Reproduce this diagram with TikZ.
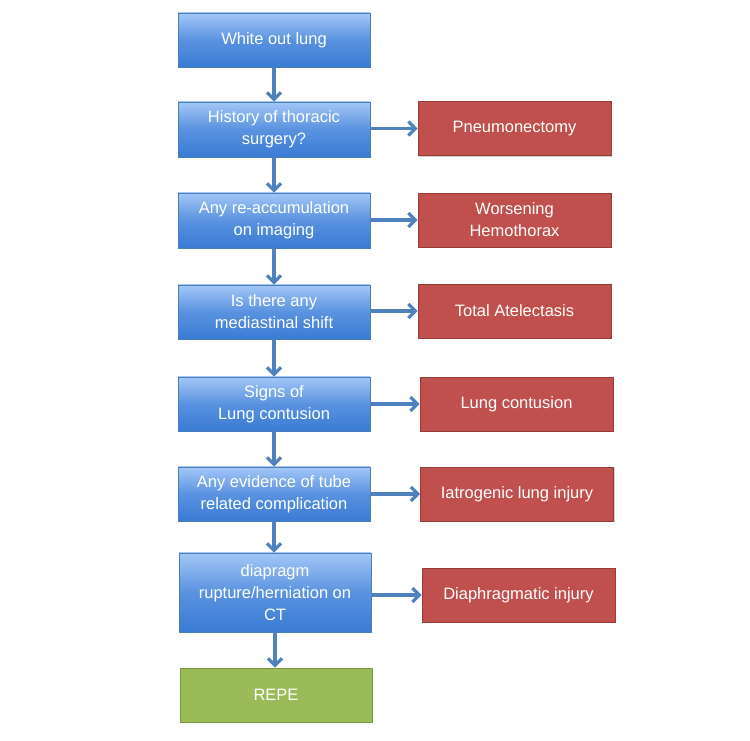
\documentclass[tikz,border=0pt]{standalone}
\usepackage{fontspec}
\setmainfont{Liberation Sans}
\usetikzlibrary{arrows.meta,shadows}
\definecolor{bluetop}{HTML}{A3C7F7}
\definecolor{bluebot}{HTML}{3A7BD5}
\definecolor{blueline}{HTML}{4A7EBB}
\definecolor{arrowc}{HTML}{4F81BD}
\definecolor{redfill}{HTML}{C0504D}
\definecolor{redline}{HTML}{9A3B38}
\definecolor{greenfill}{HTML}{9BBB59}
\definecolor{greenline}{HTML}{7A9A3E}
\begin{document}
\begin{tikzpicture}[x=1pt,y=1pt,
  box/.style={rectangle, minimum width=192pt, minimum height=54pt, inner sep=2pt,
    align=center, text=white, font=\fontsize{16.5}{22}\selectfont, line width=0.8pt,
    drop shadow={shadow xshift=1pt, shadow yshift=-1.5pt, opacity=0.35}},
  qbox/.style={box, draw=blueline, top color=bluetop, bottom color=bluebot, middle color=bluebot!70!bluetop},
  rbox/.style={box, draw=redline, fill=redfill, minimum width=193pt},
  gbox/.style={box, draw=greenline, fill=greenfill},
  conn/.style={draw=arrowc, line width=3.6pt, -{Straight Barb[length=7pt,width=14pt,line width=3.2pt]}}
]
\useasboundingbox (0,0) rectangle (750,741);
\fill[white] (0,0) rectangle (750,741);
% blue question boxes
\node[qbox] (b1) at (274,701) {White out lung};
\node[qbox, minimum height=55pt] (b2) at (274,611.5) {History of thoracic\\surgery?};
\node[qbox, minimum height=55pt] (b3) at (274,520.5) {Any re-accumulation\\on imaging};
\node[qbox] (b4) at (274,429) {Is there any\\mediastinal shift};
\node[qbox] (b5) at (274,337) {Signs of\\Lung contusion};
\node[qbox] (b6) at (274,247) {Any evidence of tube\\related complication};
\node[qbox, minimum height=79pt] (b7) at (275,148.5) {diapragm\\rupture/herniation on\\CT};
\node[gbox] (g) at (276,46) {REPE};
% red outcome boxes
\node[rbox] (r1) at (514.5,612.5) {Pneumonectomy};
\node[rbox] (r2) at (514.5,521) {Worsening\\Hemothorax};
\node[rbox] (r3) at (514.5,430) {Total Atelectasis};
\node[rbox] (r4) at (516.5,337) {Lung contusion};
\node[rbox] (r5) at (517,247) {Iatrogenic lung injury};
\node[rbox] (r6) at (518.5,146) {Diaphragmatic injury};
% vertical connectors
\draw[conn] (b1.south) -- (b2.north);
\draw[conn] (b2.south) -- (b3.north);
\draw[conn] (b3.south) -- (b4.north);
\draw[conn] (b4.south) -- (b5.north);
\draw[conn] (b5.south) -- (b6.north);
\draw[conn] (b6.south) -- (b6.south |- b7.north);
\draw[conn] (b7.south) -- (b7.south |- g.north);
% horizontal connectors
\draw[conn] (b2.east |- r1.west) -- (r1.west);
\draw[conn] (b3.east |- r2.west) -- (r2.west);
\draw[conn] (b4.east |- r3.west) -- (r3.west);
\draw[conn] (b5.east |- r4.west) -- (r4.west);
\draw[conn] (b6.east |- r5.west) -- (r5.west);
\draw[conn] (b7.east |- r6.west) -- (r6.west);
\end{tikzpicture}
\end{document}
